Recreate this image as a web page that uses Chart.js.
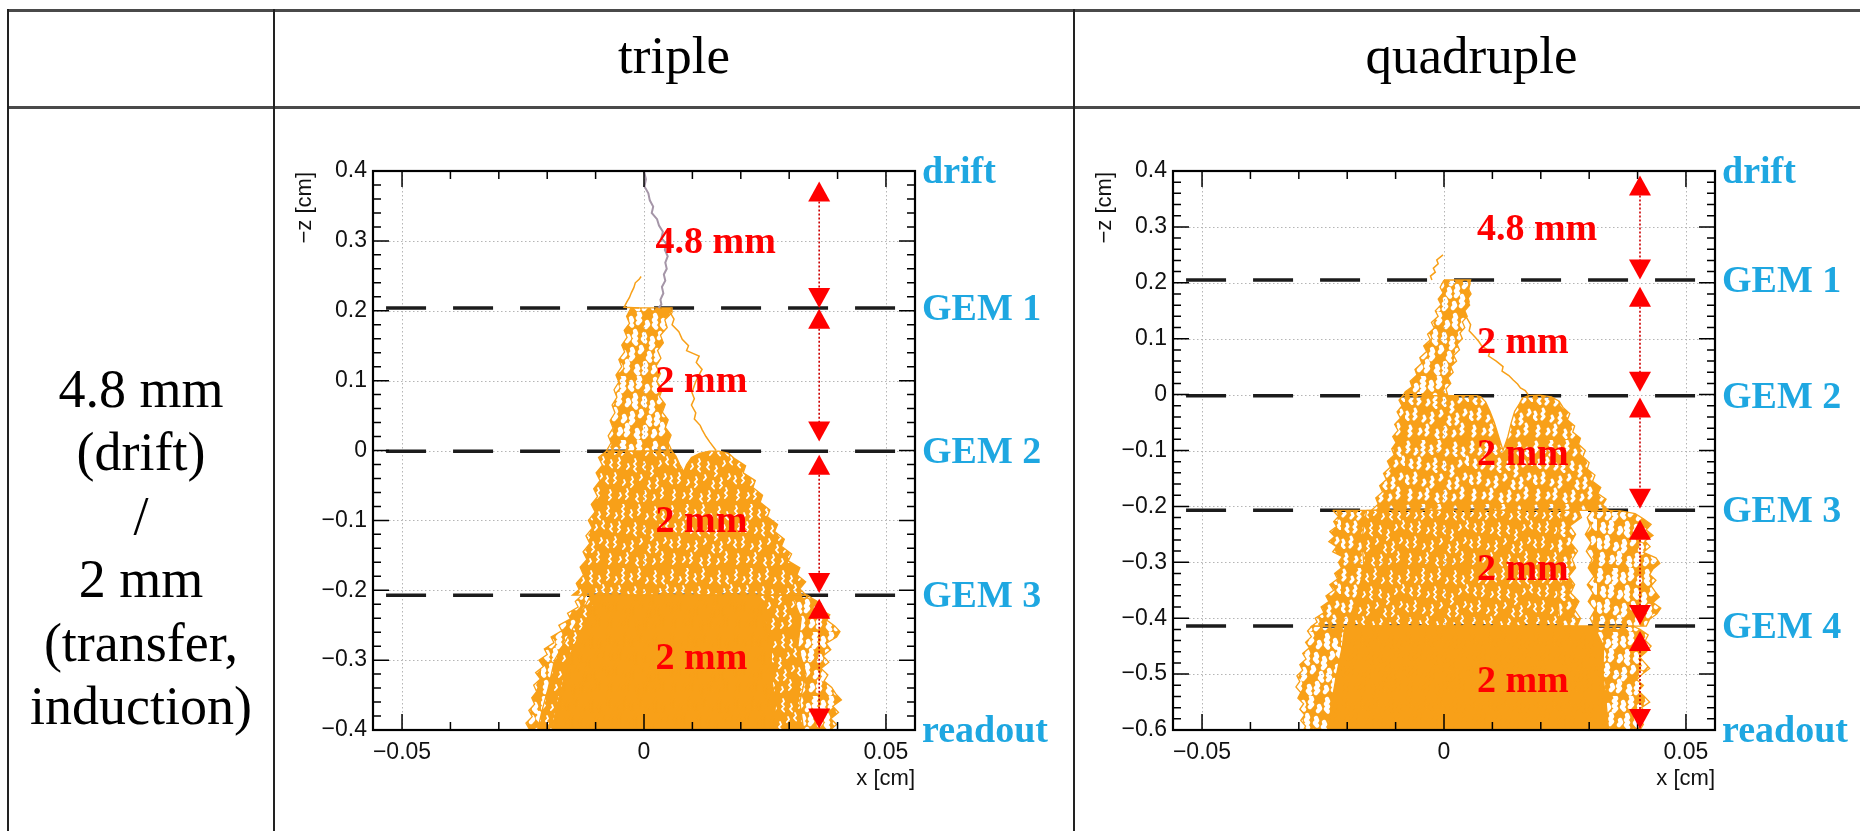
<!DOCTYPE html>
<html><head><meta charset="utf-8">
<script src="https://cdn.jsdelivr.net/npm/chart.js@4.4.1/dist/chart.umd.min.js"></script>
<style>
html,body{margin:0;padding:0;background:#fff;}
body{width:1860px;height:831px;position:relative;overflow:hidden;}
.hl{position:absolute;background:#4a4a4a;}
.vl{position:absolute;background:#222;}
.txt{position:absolute;font-family:"Liberation Serif","Times New Roman",serif;color:#000;text-align:center;white-space:nowrap;}
canvas{position:absolute;}
</style></head><body>
<div class="hl" style="left:7px;top:9px;width:1853px;height:3px"></div>
<div class="hl" style="left:7px;top:106px;width:1853px;height:3px"></div>
<div class="vl" style="left:7px;top:9px;width:2px;height:822px"></div>
<div class="vl" style="left:273px;top:9px;width:2px;height:822px"></div>
<div class="vl" style="left:1073px;top:9px;width:2px;height:822px"></div>
<div class="txt" style="left:275px;width:798px;top:29px;font-size:53px;line-height:53px;">triple</div>
<div class="txt" style="left:1075px;width:793px;top:29px;font-size:53px;line-height:53px;">quadruple</div>
<div class="txt" style="left:9px;width:264px;top:358px;font-size:54px;line-height:63.4px;">4.8 mm<br>(drift)<br>/<br>2 mm<br>(transfer,<br>induction)</div>
<canvas id="c1" width="785" height="680" style="left:285px;top:120px"></canvas>
<canvas id="c2" width="775" height="680" style="left:1085px;top:120px"></canvas>
<script>
// ---------------- data ----------------
const xRange = [-0.056, 0.056];
const xTicks = [-0.05, 0, 0.05];
const xTickLabels = ['\u22120.05', '0', '0.05'];
const xMinorTicks = [-0.04, -0.03, -0.02, -0.01, 0.01, 0.02, 0.03, 0.04];

const triYRange = [-0.4, 0.4];
const triYTicks = [0.4, 0.3, 0.2, 0.1, 0, -0.1, -0.2, -0.3, -0.4];
const triYTickLabels = ['0.4', '0.3', '0.2', '0.1', '0', '\u22120.1', '\u22120.2', '\u22120.3', '\u22120.4'];
const triYMinorTicks = [0.38,0.36,0.34,0.32,0.28,0.26,0.24,0.22,0.18,0.16,0.14,0.12,0.08,0.06,0.04,0.02,
  -0.02,-0.04,-0.06,-0.08,-0.12,-0.14,-0.16,-0.18,-0.22,-0.24,-0.26,-0.28,-0.32,-0.34,-0.36,-0.38];

const quadYRange = [-0.6, 0.4];
const quadYTicks = [0.4, 0.3, 0.2, 0.1, 0, -0.1, -0.2, -0.3, -0.4, -0.5, -0.6];
const quadYTickLabels = ['0.4', '0.3', '0.2', '0.1', '0', '\u22120.1', '\u22120.2', '\u22120.3', '\u22120.4', '\u22120.5', '\u22120.6'];
const quadYMinorTicks = [0.38,0.36,0.34,0.32,0.28,0.26,0.24,0.22,0.18,0.16,0.14,0.12,0.08,0.06,0.04,0.02,
  -0.02,-0.04,-0.06,-0.08,-0.12,-0.14,-0.16,-0.18,-0.22,-0.24,-0.26,-0.28,-0.32,-0.34,-0.36,-0.38,
  -0.42,-0.44,-0.46,-0.48,-0.52,-0.54,-0.56,-0.58];

const yTitle = '\u2212z [cm]';
const xTitle = 'x [cm]';

const gemLineX = [-0.0533, 0.0533];
const triGemY = [0.204, -0.001, -0.207];
const quadGemY = [0.205, -0.002, -0.207, -0.414];

const triSideLabels = ['drift', 'GEM 1', 'GEM 2', 'GEM 3', 'readout'];
const triSideY = [0.4, 0.204, -0.001, -0.207, -0.4];
const quadSideLabels = ['drift', 'GEM 1', 'GEM 2', 'GEM 3', 'GEM 4', 'readout'];
const quadSideY = [0.4, 0.205, -0.002, -0.207, -0.414, -0.6];

const triGapLabels = ['4.8 mm', '2 mm', '2 mm', '2 mm'];
const triGapX = [0.0024, 0.0024, 0.0024, 0.0024];
const triGapY = [0.283, 0.0844, -0.116, -0.313];
const quadGapLabels = ['4.8 mm', '2 mm', '2 mm', '2 mm', '2 mm'];
const quadGapX = [0.0068, 0.0068, 0.0068, 0.0068, 0.0068];
const quadGapY = [0.2766, 0.0744, -0.126, -0.3317, -0.532];

const triArrowX = 0.0362;
const triArrows = [[0.385, 0.204], [0.203, 0.013], [-0.006, -0.204], [-0.212, -0.398]];
const quadArrowX = 0.0405;
const quadArrows = [[0.392, 0.206], [0.193, 0.005], [-0.005, -0.204], [-0.224, -0.412], [-0.423, -0.598]];

// ---- triple: electron tracks / track envelopes (x [cm], -z [cm]) ----
const triDriftTrack = [[0,0.4],[0.0004,0.388],[0.0001,0.378],[0.0009,0.368],[0.0012,0.358],[0.0019,0.349],[0.0016,0.34],[0.0027,0.331],[0.0031,0.322],[0.0039,0.313],[0.0036,0.304],[0.0046,0.296],[0.0043,0.287],[0.0049,0.278],[0.0044,0.269],[0.0047,0.26],[0.0041,0.252],[0.0044,0.243],[0.0037,0.234],[0.0040,0.225],[0.0034,0.216],[0.0036,0.209],[0.003,0.204]];
const triBackflow = [[-0.001,0.204],[-0.0041,0.205],[-0.0036,0.212],[-0.003,0.219],[-0.0026,0.226],[-0.0021,0.233],[-0.0018,0.240],[-0.001,0.245],[-0.0006,0.249]];
const triR2Bundle = [[-0.0027,0.204],[-0.0036,0.192],[-0.003,0.182],[-0.0041,0.172],[-0.0035,0.162],[-0.0046,0.151],[-0.004,0.141],[-0.0052,0.13],[-0.0046,0.12],[-0.0058,0.108],[-0.0052,0.098],[-0.0062,0.087],[-0.0056,0.076],[-0.0066,0.065],[-0.006,0.054],[-0.007,0.043],[-0.0064,0.032],[-0.0074,0.021],[-0.0068,0.011],[-0.0078,-0.001],
  [0.0058,-0.001],[0.005,0.011],[0.0056,0.022],[0.0044,0.033],[0.005,0.044],[0.0038,0.055],[0.0044,0.066],[0.0032,0.077],[0.0038,0.088],[0.0026,0.099],[0.0034,0.11],[0.0025,0.121],[0.0035,0.132],[0.0028,0.143],[0.004,0.154],[0.0034,0.165],[0.0048,0.176],[0.0043,0.187],[0.0058,0.197],[0.0058,0.204],[-0.0027,0.204]];
const triR2Track = [[0.0052,0.2],[0.0062,0.188],[0.0058,0.18],[0.0072,0.17],[0.0079,0.159],[0.0092,0.15],[0.0088,0.143],[0.0114,0.135],[0.0108,0.126],[0.012,0.116],[0.0112,0.106],[0.0106,0.097],[0.0099,0.083],[0.0104,0.074],[0.0098,0.065],[0.0107,0.054],[0.0104,0.045],[0.0116,0.036],[0.012,0.030],[0.0128,0.02],[0.0136,0.012],[0.0149,0.0]];
const triR3 = [[-0.0078,-0.001],[-0.0094,-0.01],[-0.0086,-0.021],[-0.0099,-0.032],[-0.0091,-0.043],[-0.0104,-0.055],[-0.0096,-0.066],[-0.0109,-0.077],[-0.0101,-0.088],[-0.0115,-0.1],[-0.0107,-0.111],[-0.012,-0.122],[-0.0112,-0.133],[-0.0126,-0.145],[-0.0118,-0.156],[-0.0132,-0.167],[-0.0125,-0.178],[-0.014,-0.19],[-0.0134,-0.199],[-0.0148,-0.207],
  [0.0335,-0.207],[0.0322,-0.198],[0.0334,-0.188],[0.0316,-0.178],[0.0322,-0.168],[0.0298,-0.158],[0.0305,-0.148],[0.0284,-0.137],[0.029,-0.127],[0.027,-0.116],[0.0276,-0.106],[0.0255,-0.095],[0.026,-0.085],[0.024,-0.074],[0.0245,-0.064],[0.0225,-0.053],[0.023,-0.043],[0.0205,-0.032],[0.021,-0.022],[0.0188,-0.012],[0.0175,-0.004],[0.0155,-0.001],[0.0135,-0.001],[0.0115,-0.004],[0.0098,-0.01],[0.0088,-0.02],[0.0082,-0.03],[0.0074,-0.02],[0.0066,-0.008],[0.0058,-0.001],[-0.0078,-0.001]];
const triR4Outer = [[-0.0128,-0.207],[-0.0142,-0.216],[-0.0136,-0.224],[-0.0158,-0.233],[-0.0152,-0.241],[-0.0176,-0.25],[-0.017,-0.258],[-0.0192,-0.267],[-0.0186,-0.275],[-0.0206,-0.284],[-0.02,-0.292],[-0.0217,-0.3],[-0.0208,-0.309],[-0.0224,-0.318],[-0.0214,-0.327],[-0.0228,-0.336],[-0.0222,-0.345],[-0.0232,-0.354],[-0.0226,-0.363],[-0.0238,-0.372],[-0.0231,-0.381],[-0.0244,-0.39],[-0.0236,-0.4],
  [0.0385,-0.4],[0.0398,-0.392],[0.0386,-0.384],[0.0402,-0.375],[0.039,-0.366],[0.0408,-0.357],[0.0396,-0.348],[0.0388,-0.339],[0.0372,-0.33],[0.038,-0.321],[0.0366,-0.312],[0.0382,-0.303],[0.037,-0.294],[0.0386,-0.285],[0.0376,-0.276],[0.0398,-0.267],[0.0405,-0.259],[0.0394,-0.251],[0.0378,-0.243],[0.0384,-0.235],[0.0362,-0.227],[0.0366,-0.219],[0.0348,-0.212],[0.0338,-0.207],[-0.0128,-0.207]];
const triR4Mid = [[-0.011,-0.207],[-0.0135,-0.24],[-0.016,-0.27],[-0.0185,-0.3],[-0.0198,-0.34],[-0.021,-0.37],[-0.022,-0.4],[0.033,-0.4],[0.0322,-0.36],[0.0335,-0.32],[0.0318,-0.28],[0.0325,-0.24],[0.0305,-0.207],[-0.011,-0.207]];
const triR4Core = [[-0.0095,-0.207],[-0.0118,-0.24],[-0.0138,-0.27],[-0.0158,-0.3],[-0.017,-0.34],[-0.0182,-0.37],[-0.019,-0.4],[0.0268,-0.4],[0.0272,-0.36],[0.0262,-0.32],[0.0264,-0.28],[0.025,-0.24],[0.0238,-0.207],[-0.0095,-0.207]];

// ---- quadruple ----
const quadBackflow = [[-0.0025,0.205],[-0.0028,0.212],[-0.0018,0.219],[-0.0022,0.226],[-0.0012,0.234],[-0.0015,0.241],[-0.0002,0.25]];
const quadR2Bundle = [[0.0,0.205],[-0.0008,0.192],[-0.0002,0.182],[-0.0012,0.171],[-0.0006,0.161],[-0.0018,0.15],[-0.0012,0.14],[-0.0026,0.129],[-0.002,0.119],[-0.0034,0.108],[-0.0028,0.098],[-0.0042,0.087],[-0.0036,0.077],[-0.005,0.066],[-0.0046,0.056],[-0.006,0.045],[-0.0056,0.035],[-0.007,0.024],[-0.0066,0.014],[-0.008,0.005],[-0.0085,-0.002],
  [0.0008,-0.002],[0.0004,0.01],[0.0014,0.02],[0.0008,0.03],[0.0019,0.04],[0.0014,0.05],[0.0026,0.06],[0.002,0.07],[0.0032,0.08],[0.0027,0.09],[0.0038,0.1],[0.0033,0.11],[0.0043,0.12],[0.0038,0.13],[0.0048,0.14],[0.0043,0.15],[0.0053,0.16],[0.0048,0.17],[0.0056,0.18],[0.005,0.19],[0.0055,0.205],[0.0,0.205]];
const quadR2Track = [[0.0054,0.2],[0.0048,0.178],[0.0052,0.166],[0.0042,0.155],[0.004,0.146],[0.0048,0.136],[0.0055,0.125],[0.0052,0.114],[0.0064,0.103],[0.0072,0.095],[0.0078,0.087],[0.0095,0.077],[0.0092,0.069],[0.0108,0.06],[0.0122,0.05],[0.012,0.042],[0.0134,0.034],[0.0143,0.026],[0.0152,0.019],[0.0158,0.012],[0.0168,0.007],[0.0174,0.0]];
const quadR3 = [[-0.0085,-0.002],[-0.0093,-0.01],[-0.0087,-0.02],[-0.0097,-0.031],[-0.009,-0.042],[-0.0102,-0.053],[-0.0095,-0.064],[-0.0106,-0.075],[-0.0099,-0.086],[-0.0108,-0.097],[-0.0103,-0.108],[-0.0117,-0.119],[-0.0111,-0.13],[-0.0125,-0.141],[-0.0119,-0.152],[-0.0133,-0.163],[-0.0127,-0.174],[-0.0141,-0.185],[-0.0136,-0.196],[-0.015,-0.207],
  [0.034,-0.207],[0.0328,-0.197],[0.0335,-0.187],[0.0318,-0.177],[0.0324,-0.166],[0.0307,-0.155],[0.0312,-0.144],[0.0296,-0.133],[0.03,-0.122],[0.0287,-0.111],[0.0292,-0.1],[0.0278,-0.089],[0.0282,-0.078],[0.0266,-0.067],[0.027,-0.056],[0.0255,-0.045],[0.026,-0.034],[0.0246,-0.023],[0.0238,-0.012],[0.0222,-0.004],[0.0198,-0.001],[0.0175,-0.002],[0.0162,-0.006],[0.0156,-0.016],[0.0146,-0.03],[0.0139,-0.05],[0.0132,-0.075],[0.0122,-0.1],[0.0113,-0.075],[0.0104,-0.05],[0.0095,-0.03],[0.0086,-0.013],[0.0076,-0.004],[0.0068,-0.002],[-0.0085,-0.002]];
const quadR4Main = [[-0.023,-0.207],[-0.0218,-0.218],[-0.0228,-0.227],[-0.0222,-0.236],[-0.0236,-0.245],[-0.0226,-0.254],[-0.0238,-0.263],[-0.0222,-0.272],[-0.023,-0.281],[-0.021,-0.29],[-0.0218,-0.3],[-0.0212,-0.31],[-0.0226,-0.32],[-0.022,-0.33],[-0.0236,-0.34],[-0.0228,-0.35],[-0.0244,-0.36],[-0.0238,-0.37],[-0.0254,-0.38],[-0.0248,-0.39],[-0.0266,-0.4],[-0.0262,-0.407],[-0.0273,-0.414],
  [0.0275,-0.414],[0.0282,-0.4],[0.027,-0.385],[0.0279,-0.37],[0.0262,-0.355],[0.027,-0.34],[0.0258,-0.325],[0.0272,-0.31],[0.0265,-0.295],[0.0276,-0.28],[0.0262,-0.265],[0.0272,-0.25],[0.026,-0.235],[0.0284,-0.22],[0.0278,-0.207],[-0.023,-0.207]];
const quadR4Core = [[-0.016,-0.207],[-0.017,-0.26],[-0.0165,-0.31],[-0.018,-0.36],[-0.02,-0.414],[0.024,-0.414],[0.0235,-0.36],[0.0245,-0.31],[0.023,-0.26],[0.0245,-0.207],[-0.016,-0.207]];
const quadR4Right = [[0.0305,-0.209],[0.0335,-0.207],[0.0365,-0.208],[0.0395,-0.213],[0.0412,-0.222],[0.0428,-0.232],[0.0418,-0.242],[0.0432,-0.252],[0.0415,-0.262],[0.0426,-0.272],[0.0412,-0.282],[0.0438,-0.292],[0.0446,-0.302],[0.0432,-0.312],[0.0425,-0.322],[0.0438,-0.332],[0.0428,-0.342],[0.0436,-0.352],[0.0445,-0.362],[0.0432,-0.372],[0.0448,-0.382],[0.044,-0.392],[0.0425,-0.402],[0.0418,-0.414],
  [0.031,-0.414],[0.0302,-0.4],[0.0312,-0.385],[0.0298,-0.37],[0.0308,-0.355],[0.0296,-0.34],[0.031,-0.325],[0.0298,-0.31],[0.0306,-0.295],[0.0294,-0.28],[0.0304,-0.265],[0.0292,-0.25],[0.0302,-0.235],[0.0296,-0.22],[0.0305,-0.209]];
const quadR5Outer = [[-0.0273,-0.414],[-0.0282,-0.423],[-0.0274,-0.433],[-0.0286,-0.443],[-0.0278,-0.453],[-0.0292,-0.463],[-0.0285,-0.473],[-0.0298,-0.483],[-0.0292,-0.493],[-0.0304,-0.503],[-0.0298,-0.513],[-0.0306,-0.523],[-0.0296,-0.533],[-0.0302,-0.543],[-0.029,-0.553],[-0.0298,-0.563],[-0.0288,-0.573],[-0.0296,-0.583],[-0.0286,-0.593],[-0.029,-0.6],
  [0.0405,-0.6],[0.0412,-0.59],[0.0402,-0.58],[0.0418,-0.57],[0.0408,-0.56],[0.0425,-0.55],[0.0414,-0.54],[0.0402,-0.53],[0.0412,-0.52],[0.0398,-0.51],[0.041,-0.5],[0.0425,-0.49],[0.0415,-0.48],[0.0405,-0.47],[0.0418,-0.46],[0.0428,-0.45],[0.0416,-0.44],[0.0422,-0.43],[0.0405,-0.42],[0.039,-0.414],[-0.0273,-0.414]];
const quadR5Core = [[-0.0205,-0.414],[-0.021,-0.45],[-0.0222,-0.5],[-0.0232,-0.55],[-0.024,-0.6],[0.034,-0.6],[0.0335,-0.55],[0.0328,-0.5],[0.033,-0.45],[0.031,-0.414],[-0.0205,-0.414]];

// ---------------- styles ----------------
const ORANGE = 'rgb(248,160,24)';
const DRIFT_GRAY = 'rgb(165,150,168)';
const RED = '#ff0000';
const BLUE = '#1ea7e1';
// texture of overlapping tracks: orange tile with thin track-like gaps cut out (pure style)
const TILE = 64;
const TILE_GAPS = [[3,2,12],[11,9,7],[18,0,15],[26,6,9],[34,1,11],[42,10,6],[50,3,13],[58,8,8],
  [6,20,9],[14,18,12],[23,24,6],[30,19,14],[39,22,8],[47,26,10],[55,21,7],[62,17,9],
  [2,36,8],[10,33,11],[19,40,7],[27,37,12],[36,35,6],[44,41,9],[52,38,11],[60,34,6],
  [5,50,10],[15,53,6],[22,49,12],[32,54,8],[40,51,11],[49,55,6],[57,48,12]];
function trackTexture(gapWidth) {
  const c = document.createElement('canvas'); c.width = TILE; c.height = TILE;
  const g = c.getContext('2d');
  g.fillStyle = ORANGE; g.fillRect(0, 0, TILE, TILE);
  g.globalCompositeOperation = 'destination-out';
  g.lineWidth = gapWidth; g.lineJoin = 'round'; g.lineCap = 'round';
  TILE_GAPS.forEach(([hx, hy, h]) => {
    g.beginPath(); g.moveTo(hx, hy);
    let s = 1;
    for (let k = 2.5; k <= h; k += 2.5) { g.lineTo(hx + s * 1.1, hy + k); s = -s; }
    g.stroke();
  });
  return document.createElement('canvas').getContext('2d').createPattern(c, 'repeat');
}
const TEX = {light: trackTexture(1.8), medium: trackTexture(3.0), heavy: trackTexture(4.4), solid: ORANGE};

const pts = arr => arr.map(p => ({x: p[0], y: p[1]}));
const polyDS = (arr, tex) => ({data: pts(arr), showLine: true, fill: 'shape', backgroundColor: TEX[tex],
  borderColor: ORANGE, borderWidth: 1.3, pointRadius: 0, order: 3});
const trackDS = (arr, color, w) => ({data: pts(arr), showLine: true, fill: false, borderColor: color,
  borderWidth: w, pointRadius: 0, order: 1});
const gemDS = y => ({data: [{x: gemLineX[0], y: y}, {x: gemLineX[1], y: y}], showLine: true, fill: false,
  borderColor: '#1c1c1c', borderWidth: 3.5, borderDash: [40, 27], pointRadius: 0, order: 9});

function makeRootPlugin(cfg) {
  return {
    id: 'rootStyle_' + cfg.name,
    beforeDatasetsDraw(chart) {
      const {ctx, chartArea: a, scales: {x, y}} = chart;
      ctx.save();
      ctx.strokeStyle = '#b5b5b5'; ctx.lineWidth = 1; ctx.setLineDash([1.5, 2.5]);
      ctx.beginPath();
      xTicks.forEach(v => { const p = Math.round(x.getPixelForValue(v)) + 0.5; ctx.moveTo(p, a.top); ctx.lineTo(p, a.bottom); });
      cfg.yTicks.forEach(v => { const p = Math.round(y.getPixelForValue(v)) + 0.5;
        if (p > a.top + 2 && p < a.bottom - 2) { ctx.moveTo(a.left, p); ctx.lineTo(a.right, p); } });
      ctx.stroke();
      ctx.restore();
    },
    afterDatasetsDraw(chart) {
      const {ctx, chartArea: a, scales: {x, y}} = chart;
      ctx.save();
      ctx.strokeStyle = '#000'; ctx.lineWidth = 1.5; ctx.setLineDash([]);
      ctx.beginPath();
      const xt = (v, len) => { const p = x.getPixelForValue(v); ctx.moveTo(p, a.bottom); ctx.lineTo(p, a.bottom - len); ctx.moveTo(p, a.top); ctx.lineTo(p, a.top + len); };
      const yt = (v, len) => { const p = y.getPixelForValue(v); ctx.moveTo(a.left, p); ctx.lineTo(a.left + len, p); ctx.moveTo(a.right, p); ctx.lineTo(a.right - len, p); };
      xTicks.forEach(v => xt(v, 16)); xMinorTicks.forEach(v => xt(v, 8));
      cfg.yTicks.forEach(v => yt(v, 16)); cfg.yMinorTicks.forEach(v => yt(v, 8));
      ctx.stroke();
      ctx.lineWidth = 2.2;
      ctx.strokeRect(a.left, a.top, a.right - a.left, a.bottom - a.top);

      const ax = x.getPixelForValue(cfg.arrowX);
      cfg.arrows.forEach(([y1, y2]) => {
        const p1 = y.getPixelForValue(y1), p2 = y.getPixelForValue(y2);
        ctx.save(); ctx.strokeStyle = 'rgb(205,0,0)'; ctx.lineWidth = 1.6; ctx.setLineDash([2, 2]);
        ctx.beginPath(); ctx.moveTo(ax, p1 + 12); ctx.lineTo(ax, p2 - 12); ctx.stroke(); ctx.restore();
        ctx.fillStyle = RED;
        ctx.beginPath(); ctx.moveTo(ax, p1); ctx.lineTo(ax - 11, p1 + 20); ctx.lineTo(ax + 11, p1 + 20); ctx.closePath(); ctx.fill();
        ctx.beginPath(); ctx.moveTo(ax, p2); ctx.lineTo(ax - 11, p2 - 20); ctx.lineTo(ax + 11, p2 - 20); ctx.closePath(); ctx.fill();
      });

      ctx.font = 'bold 38px "Liberation Serif"'; ctx.fillStyle = RED; ctx.textAlign = 'left'; ctx.textBaseline = 'alphabetic';
      cfg.gapLabels.forEach((t, i) => ctx.fillText(t, x.getPixelForValue(cfg.gapX[i]), y.getPixelForValue(cfg.gapY[i])));

      ctx.fillStyle = BLUE;
      cfg.sideLabels.forEach((t, i) => ctx.fillText(t, a.right + 7, y.getPixelForValue(cfg.sideY[i]) + 12));

      ctx.fillStyle = '#111'; ctx.font = '22px "Liberation Sans"';
      ctx.textAlign = 'right';
      ctx.fillText(xTitle, a.right, a.bottom + 55);
      ctx.save(); ctx.translate(a.left - 62, a.top + 1); ctx.rotate(-Math.PI / 2);
      ctx.fillText(yTitle, 0, 0); ctx.restore();
      ctx.restore();
    }
  };
}

function makeChart(id, cfg) {
  const findLabel = (ticks, labels, v) => { const i = ticks.findIndex(t => Math.abs(t - v) < 1e-9); return i >= 0 ? labels[i] : ''; };
  return new Chart(document.getElementById(id), {
    type: 'scatter',
    data: {datasets: cfg.datasets},
    options: {
      responsive: false, animation: false, devicePixelRatio: 1, events: [],
      layout: {padding: {left: 0, top: 51, right: cfg.padRight, bottom: 0}},
      plugins: {legend: {display: false}, tooltip: {enabled: false}},
      elements: {line: {tension: 0}},
      scales: {
        x: {type: 'linear', position: 'bottom', min: xRange[0], max: xRange[1],
          grid: {display: false, drawTicks: false}, border: {display: false},
          afterBuildTicks: s => { s.ticks = xTicks.map(v => ({value: v})); },
          afterFit: s => { s.height = 70; },
          ticks: {autoSkip: false, maxRotation: 0, minRotation: 0, padding: 9, color: '#111',
            font: {family: 'Liberation Sans', size: 23},
            callback: v => findLabel(xTicks, xTickLabels, v)}},
        y: {type: 'linear', position: 'left', min: cfg.yRange[0], max: cfg.yRange[1],
          grid: {display: false, drawTicks: false}, border: {display: false},
          afterBuildTicks: s => { s.ticks = cfg.yTicks.map(v => ({value: v})); },
          afterFit: s => { s.width = 88; },
          ticks: {autoSkip: false, padding: 6, color: '#111',
            font: {family: 'Liberation Sans', size: 23},
            callback: v => findLabel(cfg.yTicks, cfg.yTickLabels, v)}}
      }
    },
    plugins: [makeRootPlugin(cfg)]
  });
}

makeChart('c1', {
  name: 'tri', padRight: 155, yRange: triYRange, yTicks: triYTicks, yTickLabels: triYTickLabels, yMinorTicks: triYMinorTicks,
  arrowX: triArrowX, arrows: triArrows, gapLabels: triGapLabels, gapX: triGapX, gapY: triGapY,
  sideLabels: triSideLabels, sideY: triSideY,
  datasets: [
    trackDS(triDriftTrack, DRIFT_GRAY, 2),
    trackDS(triBackflow, ORANGE, 1.5),
    trackDS(triR2Track, ORANGE, 1.5),
    polyDS(triR2Bundle, 'heavy'),
    polyDS(triR3, 'light'),
    polyDS(triR4Outer, 'heavy'), polyDS(triR4Mid, 'light'), polyDS(triR4Core, 'solid'),
    ...triGemY.map(gemDS)
  ]
});

makeChart('c2', {
  name: 'quad', padRight: 145, yRange: quadYRange, yTicks: quadYTicks, yTickLabels: quadYTickLabels, yMinorTicks: quadYMinorTicks,
  arrowX: quadArrowX, arrows: quadArrows, gapLabels: quadGapLabels, gapX: quadGapX, gapY: quadGapY,
  sideLabels: quadSideLabels, sideY: quadSideY,
  datasets: [
    trackDS(quadBackflow, ORANGE, 1.5),
    trackDS(quadR2Track, ORANGE, 1.5),
    polyDS(quadR2Bundle, 'heavy'),
    polyDS(quadR3, 'medium'),
    polyDS(quadR4Main, 'medium'), polyDS(quadR4Core, 'light'), polyDS(quadR4Right, 'heavy'),
    polyDS(quadR5Outer, 'heavy'), polyDS(quadR5Core, 'solid'),
    ...quadGemY.map(gemDS)
  ]
});
</script>
</body></html>
